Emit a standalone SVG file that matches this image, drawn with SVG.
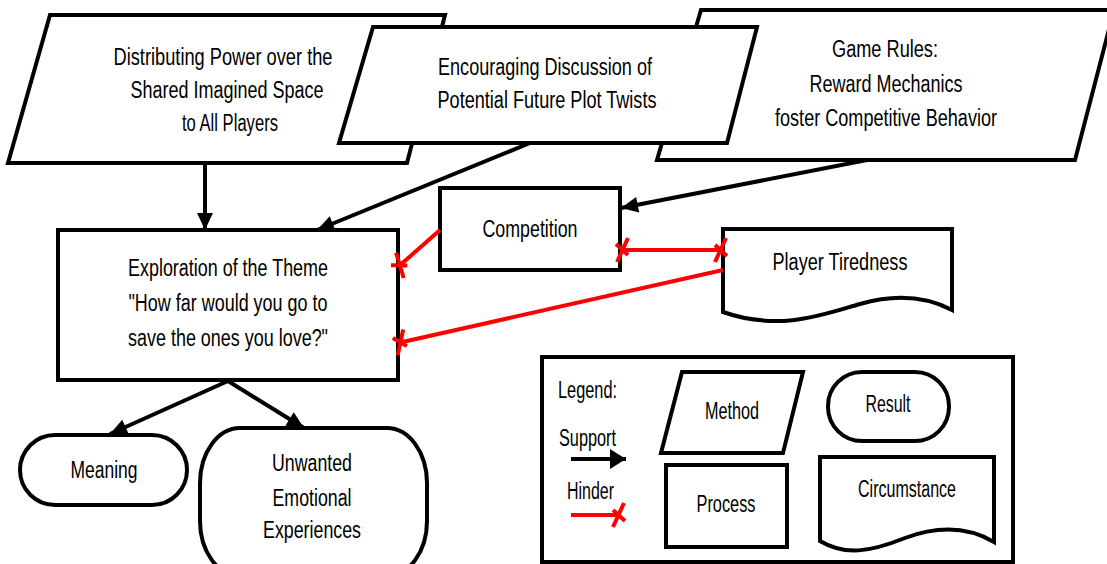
<svg xmlns="http://www.w3.org/2000/svg" width="1107" height="564" viewBox="0 0 1107 564">
<style>
.n{fill:#fff;stroke:#000;stroke-width:4;stroke-linejoin:miter}
.t{font-family:"Liberation Sans",Arial,sans-serif;font-size:23px;fill:#000;text-anchor:middle}
.tl{font-family:"Liberation Sans",Arial,sans-serif;font-size:23px;fill:#000;text-anchor:start}
.s{stroke:#000;stroke-width:4;fill:none}
.h{stroke:#f00;stroke-width:4;fill:none}
</style>
<defs>
<marker id="arr" markerUnits="userSpaceOnUse" markerWidth="24" markerHeight="24" refX="17" refY="8" orient="auto" overflow="visible">
<path d="M0,0 L17,8 L0,16 Z" fill="#000"/>
</marker>
<marker id="arrbig" markerUnits="userSpaceOnUse" markerWidth="24" markerHeight="24" refX="16" refY="10" orient="auto" overflow="visible">
<path d="M0,0 L16,10 L0,20 Z" fill="#000"/>
</marker>
<marker id="x" markerUnits="userSpaceOnUse" markerWidth="24" markerHeight="28" refX="2" refY="0" orient="auto" overflow="visible">
<path d="M-6,12 L5,-12 M-6,-5 L6,6" stroke="#f00" stroke-width="4" fill="none"/>
</marker>
<marker id="xs" markerUnits="userSpaceOnUse" markerWidth="24" markerHeight="28" refX="2" refY="0" orient="auto-start-reverse" overflow="visible">
<path d="M-6,12 L5,-12 M-6,-5 L6,6" stroke="#f00" stroke-width="4" fill="none"/>
</marker>
</defs>
<rect width="1107" height="564" fill="#fff"/>

<g id="node-distributing">
<polygon class="n" points="50,15 445,15 407,163 8,163"/>
<text class="t" x="223" y="65" textLength="219" lengthAdjust="spacingAndGlyphs">Distributing Power over the</text>
<text class="t" x="227" y="98" textLength="193" lengthAdjust="spacingAndGlyphs">Shared Imagined Space</text>
<text class="t" x="230" y="131" textLength="96" lengthAdjust="spacingAndGlyphs">to All Players</text>
</g>

<g id="node-gamerules">
<polygon class="n" points="701,10 1114,10 1075,160 657,160"/>
<text class="t" x="885" y="57" textLength="106" lengthAdjust="spacingAndGlyphs">Game Rules:</text>
<text class="t" x="886" y="92" textLength="153" lengthAdjust="spacingAndGlyphs">Reward Mechanics</text>
<text class="t" x="886" y="126" textLength="222" lengthAdjust="spacingAndGlyphs">foster Competitive Behavior</text>
</g>

<g id="node-encouraging">
<polygon class="n" points="373,27 757,27 727,143 339,143"/>
<text class="t" x="545" y="75" textLength="214" lengthAdjust="spacingAndGlyphs">Encouraging Discussion of</text>
<text class="t" x="547" y="108" textLength="219" lengthAdjust="spacingAndGlyphs">Potential Future Plot Twists</text>
</g>

<g id="node-exploration">
<rect class="n" x="58" y="230" width="340" height="150"/>
<text class="t" x="228" y="276" textLength="200" lengthAdjust="spacingAndGlyphs">Exploration of the Theme</text>
<text class="t" x="228" y="311" textLength="199" lengthAdjust="spacingAndGlyphs">"How far would you go to</text>
<text class="t" x="228" y="346" textLength="200" lengthAdjust="spacingAndGlyphs">save the ones you love?"</text>
</g>

<g id="node-competition">
<rect class="n" x="440" y="188" width="180" height="82"/>
<text class="t" x="530" y="237" textLength="95" lengthAdjust="spacingAndGlyphs">Competition</text>
</g>

<g id="node-tiredness">
<path class="n" d="M723,229 H952 V310 C925,296 895,294 860,304 C825,314 780,332 723,312 Z"/>
<text class="t" x="840" y="270" textLength="135" lengthAdjust="spacingAndGlyphs">Player Tiredness</text>
</g>

<g id="node-meaning">
<rect class="n" x="20" y="435" width="167" height="70" rx="35" ry="35"/>
<text class="t" x="104" y="478" textLength="67" lengthAdjust="spacingAndGlyphs">Meaning</text>
</g>

<g id="node-unwanted">
<rect class="n" x="200" y="428" width="227" height="148" rx="40" ry="55"/>
<text class="t" x="312" y="471" textLength="80" lengthAdjust="spacingAndGlyphs">Unwanted</text>
<text class="t" x="312" y="506" textLength="79" lengthAdjust="spacingAndGlyphs">Emotional</text>
<text class="t" x="312" y="538" textLength="98" lengthAdjust="spacingAndGlyphs">Experiences</text>
</g>

<g id="connectors">
<line class="s" x1="205" y1="163" x2="205" y2="230" marker-end="url(#arr)"/>
<line class="s" x1="530" y1="143" x2="317" y2="230" marker-end="url(#arr)"/>
<line class="s" x1="867" y1="160" x2="621" y2="208" marker-end="url(#arr)"/>
<line class="s" x1="228" y1="381" x2="110" y2="434" marker-end="url(#arr)"/>
<line class="s" x1="228" y1="381" x2="304" y2="428" marker-end="url(#arr)"/>
<line class="h" x1="440" y1="230" x2="398" y2="267" marker-end="url(#x)"/>
<line class="h" x1="620" y1="250" x2="723" y2="250" marker-start="url(#xs)" marker-end="url(#xs)"/>
<line class="h" x1="723" y1="270" x2="398" y2="343" marker-end="url(#x)"/>
</g>

<g id="legend">
<rect class="n" x="542" y="357" width="471" height="205"/>
<text class="tl" x="558" y="398" textLength="59" lengthAdjust="spacingAndGlyphs">Legend:</text>
<text class="tl" x="559" y="446" textLength="57" lengthAdjust="spacingAndGlyphs">Support</text>
<line class="s" x1="571" y1="459" x2="626" y2="459" marker-end="url(#arrbig)"/>
<text class="tl" x="567" y="499" textLength="47" lengthAdjust="spacingAndGlyphs">Hinder</text>
<line class="h" x1="571" y1="515" x2="621" y2="515" marker-end="url(#x)"/>
<g id="legend-method">
<polygon class="n" points="682,372 803,372 783,453 661,453"/>
<text class="t" x="732" y="419" textLength="54" lengthAdjust="spacingAndGlyphs">Method</text>
</g>
<g id="legend-result">
<rect class="n" x="828" y="372" width="121" height="69" rx="34" ry="34"/>
<text class="t" x="888" y="412" textLength="45" lengthAdjust="spacingAndGlyphs">Result</text>
</g>
<g id="legend-process">
<rect class="n" x="666" y="465" width="121" height="82"/>
<text class="t" x="726" y="512" textLength="59" lengthAdjust="spacingAndGlyphs">Process</text>
</g>
<g id="legend-circumstance">
<path class="n" d="M820,457 H994 V542 C970,528 940,525 905,538 C870,552 845,556 820,541 Z"/>
<text class="t" x="907" y="497" textLength="98" lengthAdjust="spacingAndGlyphs">Circumstance</text>
</g>
</g>
</svg>
